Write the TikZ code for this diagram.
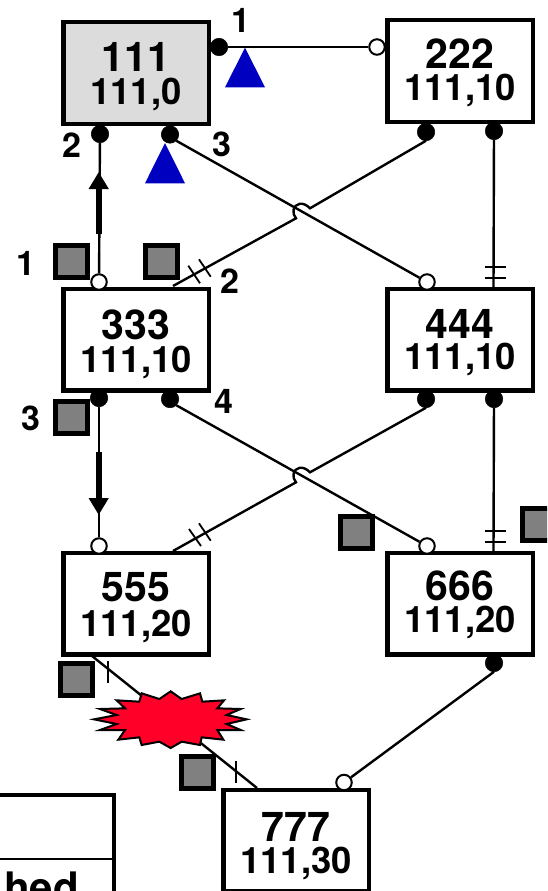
\documentclass[tikz,border=0pt]{standalone}
\usepackage{fontspec}
\setmainfont[Kerning=Off]{TeX Gyre Heros}
\usetikzlibrary{arrows.meta}
\definecolor{boxgray}{HTML}{DCDCDC}
\definecolor{sqgray}{HTML}{808080}
\definecolor{triblue}{HTML}{0000C0}
\definecolor{starred}{HTML}{FF0028}
% #1 upper text, #2 lower text, #3 height above first baseline, #4 baseline gap, #5 depth below second baseline
\newcommand{\twolines}[5]{\rule{0pt}{#3pt}{\fontsize{41}{32.3}\selectfont #1}\\[\dimexpr #4pt-32.3pt\relax]#2\rule[-#5pt]{0pt}{#5pt}}
\tikzset{
  x=1pt,y=-1pt,
  nodebox/.style={draw,line width=4.5pt,fill=white,minimum width=145.5pt,minimum height=101.5pt,inner sep=0pt,align=center,font=\fontsize{36.5}{32.3}\selectfont\bfseries},
  ballfull/.style={circle,fill=black,draw=black,line width=0.5pt,minimum size=17.5pt,inner sep=0pt,outer sep=0pt},
  ballopen/.style={circle,fill=white,draw=black,line width=2pt,minimum size=15.5pt,inner sep=0pt,outer sep=1pt},
  conn/.style={line width=2.4pt},
  tick/.style={line width=1.8pt},
  shaft/.style={line width=6pt,-{Triangle[length=17pt,width=19pt]}},
  marksq/.style={draw,line width=5pt,fill=sqgray,minimum size=32pt,inner sep=0pt},
  tri/.style={fill=triblue},
  numlab/.style={font=\fontsize{34}{34}\selectfont\bfseries,anchor=base,inner sep=0pt},
}
\begin{document}
\begin{tikzpicture}
\useasboundingbox (0,0) rectangle (547,891);
\clip (0,0) rectangle (547,891);
% boxes
\node[nodebox,fill=boxgray] (n111) at (136,73) {\twolines{111}{111,0}{43.7}{32.3}{14}};
\node[nodebox] (n222) at (460,71) {\twolines{222}{111,10}{42}{32}{16}};
\node[nodebox] (n333) at (136,339.75) {\twolines{333}{111,10}{44.55}{33}{12.45}};
\node[nodebox] (n444) at (460,339.75) {\twolines{444}{111,10}{43.55}{30.7}{15.75}};
\node[nodebox] (n555) at (136,603.5) {\twolines{555}{111,20}{43.2}{34.3}{12.5}};
\node[nodebox] (n666) at (460,603.5) {\twolines{666}{111,20}{41.5}{32.7}{15.8}};
\node[nodebox] (n777) at (296,840.5) {\twolines{777}{111,30}{46.2}{31.6}{12.2}};
% cut-off box
\node[draw,line width=4.5pt,minimum width=140pt,minimum height=120pt,inner sep=0pt] (legend) at (44,855) {};
\node[font=\fontsize{42}{42}\selectfont\bfseries,anchor=base east,inner sep=0pt] (legendtext) at (79,902) {hed};
\coordinate (cutl) at (0,858.5);
\coordinate (cutr) at (114,858.5);
\draw[line width=2pt] (cutl) -- (cutr);
% ports
\node[ballfull] (a1) at (219,47) {};
\node[ballfull] (a2) at (100,134) {};
\node[ballfull] (a3) at (170,134.5) {};
\node[ballopen] (b1) at (377,47) {};
\node[ballfull] (b2) at (426,132) {};
\node[ballfull] (b3) at (494,131) {};
\node[ballopen] (c1) at (99,282) {};
\coordinate (c2) at (173,286);
\node[ballfull] (c3) at (99,398) {};
\node[ballfull] (c4) at (170,399) {};
\node[ballopen] (d1) at (427,282) {};
\coordinate (d2) at (493.5,287);
\node[ballfull] (d3) at (426,399) {};
\node[ballfull] (d4) at (494,399) {};
\node[ballopen] (e1) at (99,546) {};
\coordinate (e2) at (173,551);
\coordinate (e3) at (92,656);
\node[ballopen] (f1) at (427,546) {};
\coordinate (f2) at (493.5,551);
\node[ballfull] (f3) at (494,663) {};
\node[ballopen] (g1) at (344,782.5) {};
\coordinate (g2) at (257,788);
% connectors
\draw[conn] (a1) -- (b1);
\draw[conn] (a2) -- (c1);
\draw[conn] (a3.south east) -- (d1);
\draw[conn] (b2.south) -- (310,208.3) .. controls (303,201) and (295,203) .. (293.5,210) .. controls (293,213) and (294,216) .. (296,218.3) -- (c2);
\draw[conn] (b3) -- (d2);
\draw[conn] (c3) -- (e1);
\draw[conn] (c4.south east) -- (f1);
\draw[conn] (d3.south) -- (310,472.3) .. controls (303,465) and (295,467) .. (293.5,474) .. controls (293,477) and (294,480) .. (296,482.3) -- (e2);
\draw[conn] (d4) -- (f2);
\draw[conn] (e3) -- (g2);
\draw[conn] (f3.south) -- (g1);
% heavy arrows
\coordinate (h1s) at (98.7,234);
\coordinate (h1e) at (98.7,172);
\coordinate (h2s) at (98.7,452);
\coordinate (h2e) at (98.7,515);
\draw[shaft] (h1s) -- (h1e);
\draw[shaft] (h2s) -- (h2e);
% ticks
\draw[tick] (188.3,265.7) -- (200,283.3);
\draw[tick] (199,259.3) -- (210.7,276.7);
\draw[tick] (189,529) -- (201,546);
\draw[tick] (199,523.3) -- (210.7,540.7);
\draw[tick] (484.7,267) -- (505.7,267);
\draw[tick] (484.7,278) -- (505.7,278);
\draw[tick] (484.7,530.7) -- (505.7,530.7);
\draw[tick] (484.7,542) -- (505.7,542);
\draw[tick] (108,661) -- (108,683);
\draw[tick] (236,761) -- (236,783);
% burst
\begin{scope}[shift={(0,640)},x=0.33333pt,y=-0.33333pt]
\draw[fill=starred,line width=2pt,miter limit=10] (512,154) -- (545,177) -- (600,160) -- (607,185) -- (672,181) -- (652,205) -- (722,207) -- (680,225) -- (740,238) -- (680,252) -- (722,270) -- (652,270) -- (670,299) -- (605,292) -- (600,315) -- (545,305) -- (512,324) -- (478,305) -- (425,315) -- (418,292) -- (355,299) -- (375,270) -- (300,270) -- (350,252) -- (282,238) -- (350,225) -- (300,207) -- (375,205) -- (350,181) -- (418,185) -- (425,160) -- (478,177) -- cycle;
\end{scope}
% squares
\node[marksq] (s1) at (71.7,261.5) {};
\node[marksq] (s2) at (161.8,261.5) {};
\node[marksq] (s3) at (71.7,417.7) {};
\node[marksq] (s4) at (356.8,532.5) {};
\node[marksq] (s5) at (538.5,524) {};
\node[marksq] (s6) at (76.7,679) {};
\node[marksq] (s7) at (197.4,772.5) {};
% triangles
\fill[tri] (245,47.7) -- (265,87.3) -- (225,87.3) -- cycle;
\fill[tri] (165,143) -- (185,183.3) -- (145,183.3) -- cycle;
% labels
\node[numlab] (l1) at (240.7,33) {1};
\node[numlab] (l2) at (72,157.5) {2};
\node[numlab] (l3) at (222,156) {3};
\node[numlab] (l4) at (26,275) {1};
\node[numlab] (l5) at (230,293) {2};
\node[numlab] (l6) at (30.7,430) {3};
\node[numlab] (l7) at (224,413) {4};
\end{tikzpicture}
\end{document}
